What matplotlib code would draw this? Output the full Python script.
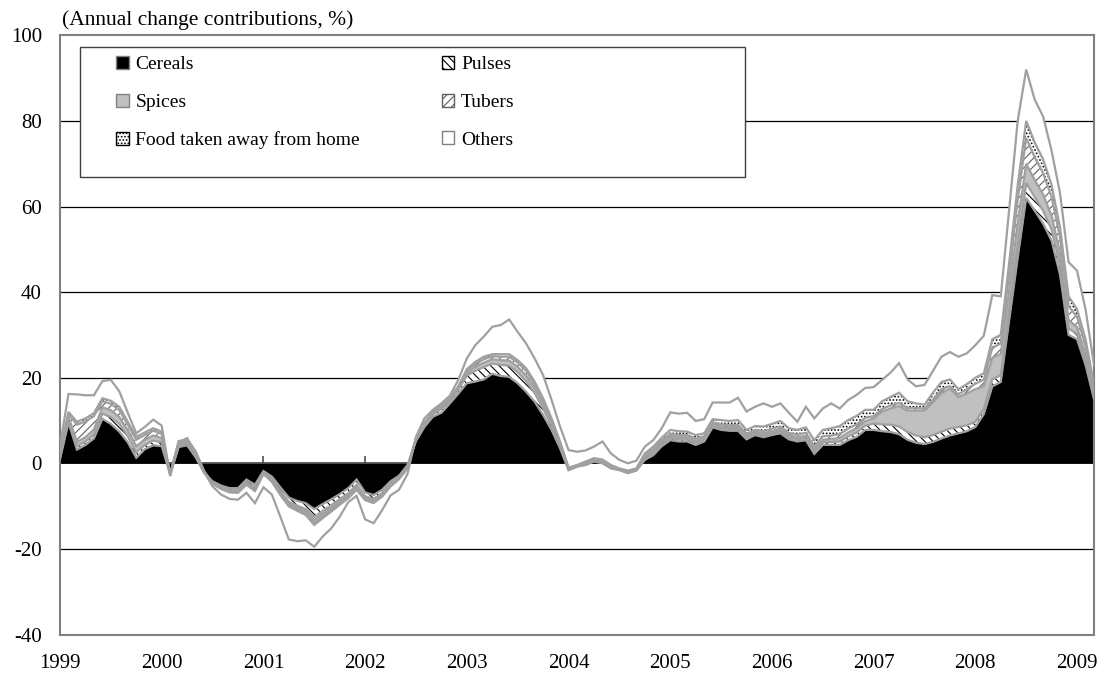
import matplotlib
matplotlib.use("Agg")
import matplotlib.pyplot as plt
from matplotlib.patches import Patch, Rectangle
import numpy as np

years = ["1999", "2000", "2001", "2002", "2003", "2004", "2005", "2006", "2007", "2008", "2009"]
series_names = ["Cereals", "Pulses", "Spices", "Tubers", "Food taken away from home", "Others"]

cereals = [1.0, 9.5, 3.2, 4.3, 5.8, 10.4, 9.2, 7.4, 4.9, 1.3, 3.3, 4.2,
           4.0, -2.6, 3.8, 4.2, 1.4, -2.2, -4.2, -5.2, -5.8, -5.8, -3.8, -5.0,
           -1.8, -3.1, -5.6, -8.0, -8.8, -9.3, -10.7, -9.5, -8.4, -7.2, -5.8, -3.8,
           -6.8, -7.4, -6.2, -4.2, -2.9, -0.4, 5.2, 8.5, 10.9, 11.8, 14.0, 16.3,
           18.7, 19.1, 19.6, 20.9, 20.4, 20.2, 18.7, 16.7, 14.4, 11.3, 7.8, 3.5,
           -1.6, -0.8, -0.4, 0.4, 0.0, -1.2, -1.6, -2.3, -1.7, 0.8, 1.9, 4.0,
           5.4, 5.1, 5.1, 4.3, 5.1, 8.4, 7.8, 7.6, 7.6, 5.6, 6.6, 6.1,
           6.6, 7.0, 5.6, 5.1, 5.4, 2.2, 4.3, 4.3, 4.3, 5.4, 6.2, 7.8,
           7.8, 7.5, 7.3, 6.8, 5.5, 4.8, 4.5, 5.0, 5.8, 6.5, 7.0, 7.5,
           8.5, 11.5, 18.0, 19.0, 33.5, 48.0, 62.0, 59.0, 56.0, 52.0, 44.0, 30.0,
           29.0, 23.0, 15.0]

pulses = [0.4, 0.6, 0.8, 0.8, 0.9, 1.2, 1.6, 1.8, 1.4, 1.2, 1.0, 1.1,
          0.9, 0.1, 0.4, 0.4, 0.4, 0.1, -0.3, -0.4, -0.5, -0.5, -0.6, -0.7,
          -0.3, -0.6, -0.9, -1.0, -1.1, -1.4, -1.8, -1.6, -1.4, -1.2, -1.2, -1.2,
          -0.9, -0.9, -0.8, -0.6, -0.4, -0.4, 0.3, 0.5, 0.6, 0.9, 0.6, 0.9,
          1.8, 2.5, 2.9, 2.4, 2.6, 2.6, 2.6, 2.5, 2.0, 1.5, 1.0, 0.5,
          0.1, 0.1, 0.2, 0.2, 0.2, 0.2, 0.1, 0.1, 0.1, 0.4, 0.5, 0.5,
          0.5, 0.5, 0.5, 0.5, 0.4, 0.4, 0.4, 0.4, 0.4, 0.4, 0.4, 0.4,
          0.4, 0.5, 0.5, 0.5, 0.5, 0.5, 0.6, 0.7, 0.8, 0.9, 1.0, 1.0,
          1.5, 1.6, 1.7, 1.8, 1.8, 1.7, 1.6, 1.6, 1.6, 1.6, 1.5, 1.4,
          1.2, 1.2, 1.6, 1.6, 2.4, 3.0, 3.5, 3.2, 3.0, 2.6, 2.2, 1.5,
          1.2, 1.0, 0.6]

spices = [0.4, 0.8, 1.0, 1.0, 1.2, 1.5, 1.6, 1.6, 1.4, 1.5, 1.2, 1.2,
          1.0, 0.1, 0.4, 0.4, 0.4, 0.1, -0.1, -0.2, -0.2, -0.2, -0.2, -0.3,
          -0.2, -0.3, -0.4, -0.5, -0.5, -0.6, -0.8, -0.7, -0.6, -0.6, -0.5, -0.5,
          -0.4, -0.4, -0.4, -0.3, -0.2, -0.2, 0.1, 0.2, 0.2, 0.3, 0.3, 0.3,
          0.6, 0.9, 1.0, 1.0, 1.1, 1.2, 1.2, 1.3, 1.2, 1.1, 0.8, 0.5,
          0.2, 0.1, 0.2, 0.2, 0.3, 0.2, 0.1, 0.2, 0.2, 0.4, 0.5, 0.5,
          0.5, 0.5, 0.5, 0.5, 0.4, 0.4, 0.4, 0.4, 0.5, 0.4, 0.4, 0.5,
          0.5, 0.5, 0.5, 0.5, 0.5, 0.6, 0.6, 0.7, 0.8, 0.9, 1.0, 1.0,
          1.2, 3.0, 3.8, 4.8, 5.0, 5.8, 6.2, 7.6, 9.0, 9.3, 7.0, 7.4,
          7.6, 5.3, 5.0, 5.0, 4.5, 5.0, 4.5, 4.0, 3.8, 3.2, 2.8, 2.0,
          1.6, 1.4, 0.8]

tubers = [0.5, 0.7, 4.0, 3.7, 3.1, 1.4, 1.5, 1.6, 1.3, 1.5, 1.1, 1.1,
          1.0, -0.2, 0.3, 0.3, 0.3, 0.1, -0.1, -0.1, -0.2, -0.2, -0.2, -0.3,
          -0.1, -0.2, -0.3, -0.3, -0.4, -0.5, -0.7, -0.6, -0.5, -0.4, -0.4, -0.4,
          -0.3, -0.3, -0.2, -0.2, -0.1, -0.1, 0.1, 0.2, 0.2, 0.3, 0.2, 0.3,
          0.5, 0.7, 0.8, 0.7, 0.8, 0.9, 1.0, 1.1, 0.9, 0.8, 0.5, 0.3,
          0.1, 0.1, 0.2, 0.2, 0.2, 0.2, 0.1, 0.1, 0.1, 0.3, 0.4, 0.4,
          0.5, 0.5, 0.5, 0.5, 0.4, 0.4, 0.5, 0.5, 0.5, 0.5, 0.4, 0.5,
          0.6, 0.6, 0.5, 0.6, 0.7, 0.7, 0.8, 0.8, 0.9, 0.9, 0.9, 0.8,
          0.5, 0.6, 0.7, 0.7, 0.6, 0.6, 0.5, 0.7, 0.9, 0.6, 0.6, 1.0,
          1.3, 1.5, 2.4, 2.4, 4.0, 5.5, 6.0, 5.3, 5.0, 4.4, 3.6, 3.2,
          2.4, 2.0, 1.2]

food_away = [0.2, 0.4, 0.7, 0.7, 0.7, 0.7, 0.7, 0.8, 0.7, 0.7, 0.6, 0.6,
             0.5, 0.1, 0.3, 0.3, 0.3, 0.1, -0.1, -0.1, -0.1, -0.2, -0.2, -0.2,
             -0.1, -0.1, -0.2, -0.3, -0.3, -0.3, -0.4, -0.4, -0.4, -0.3, -0.3, -0.3,
             -0.2, -0.3, -0.2, -0.1, -0.1, -0.1, 0.1, 0.1, 0.1, 0.2, 0.1, 0.2,
             0.4, 0.5, 0.6, 0.5, 0.6, 0.6, 0.6, 0.6, 0.6, 0.5, 0.4, 0.3,
             0.2, 0.1, 0.2, 0.2, 0.2, 0.2, 0.1, 0.2, 0.1, 0.4, 0.6, 0.6,
             0.9, 0.9, 0.8, 0.8, 0.7, 0.7, 1.0, 1.0, 1.1, 0.9, 0.9, 1.1,
             1.1, 1.3, 1.1, 1.1, 1.3, 1.4, 1.5, 1.7, 1.9, 2.0, 2.0, 1.9,
             1.5, 1.8, 2.0, 2.4, 1.6, 1.1, 0.9, 1.6, 1.7, 1.6, 1.2, 1.2,
             1.4, 1.5, 2.0, 2.0, 2.6, 3.5, 4.0, 3.5, 3.2, 2.8, 2.4, 2.3,
             1.8, 1.6, 0.9]

others = [1.5, 4.2, 6.4, 5.4, 4.2, 4.0, 4.9, 3.6, 2.1, 0.8, 1.3, 2.0,
          1.4, -0.5, -0.4, 0.3, -0.2, -0.2, -0.6, -1.3, -1.5, -1.6, -1.9, -2.8,
          -3.1, -3.0, -5.1, -7.7, -7.1, -5.9, -5.1, -4.3, -3.9, -2.8, -0.9, -1.4,
          -4.5, -4.7, -3.2, -2.1, -2.5, -1.3, 0.4, 1.0, 0.5, 0.5, 0.6, 1.5,
          2.5, 3.9, 4.7, 6.4, 6.8, 8.1, 6.6, 5.8, 5.4, 5.4, 4.3, 3.5,
          4.1, 3.1, 2.6, 2.7, 4.2, 2.7, 2.0, 1.7, 1.8, 1.6, 1.5, 2.2,
          4.1, 4.1, 4.4, 3.3, 3.3, 3.9, 4.1, 4.3, 5.2, 4.3, 4.5, 5.4,
          4.0, 4.1, 3.6, 1.9, 4.8, 5.1, 5.0, 5.8, 4.1, 4.7, 4.9, 5.1,
          5.3, 5.0, 5.7, 6.9, 5.1, 4.0, 4.6, 5.1, 5.9, 6.4, 7.6, 7.2,
          7.6, 8.8, 10.3, 9.0, 12.5, 15.0, 12.0, 10.0, 10.0, 8.0, 8.0, 8.0,
          9.0, 7.0, 4.5]

plt.rcParams['font.family'] = ['Liberation Serif', 'DejaVu Serif']
plt.rcParams['hatch.linewidth'] = 0.8

fig = plt.figure(figsize=(11.06, 6.83), dpi=100)
ax = fig.add_axes([60/1106, 1-634.5/683, 1034/1106, (634.5-35.3)/683])

data = [cereals, pulses, spices, tubers, food_away, others]
n = len(cereals)
x = np.arange(n)
styles = [
    dict(facecolor='black', hatch=None, hcolor='black'),
    dict(facecolor='white', hatch='\\\\\\\\', hcolor='black'),
    dict(facecolor='#c0c0c0', hatch=None, hcolor='#c0c0c0'),
    dict(facecolor='white', hatch='////', hcolor='#606060'),
    dict(facecolor='white', hatch='.....', hcolor='black'),
    dict(facecolor='white', hatch=None, hcolor='white'),
]
line_col = '#a0a0a0'

cum_prev = np.zeros(n)
tops = []
for vals, st in zip(data, styles):
    cum = cum_prev + np.array(vals)
    ax.fill_between(x, cum_prev, cum, facecolor=st['facecolor'], edgecolor=st['hcolor'],
                    hatch=st['hatch'], linewidth=0, zorder=2)
    tops.append(cum)
    cum_prev = cum
for cum in tops:
    ax.plot(x, cum, color=line_col, lw=1.6, zorder=3, solid_joinstyle='miter')

ax.set_xlim(0, n - 1)
ax.set_ylim(-40, 100)
yt = [-40, -20, 0, 20, 40, 60, 80, 100]
ax.set_yticks(yt)
ax.set_yticklabels([str(v) for v in yt])
for v in [-20, 20, 40, 60, 80]:
    ax.axhline(v, color='black', lw=0.9, zorder=1)
ax.axhline(0, color='#505050', lw=1.3, zorder=1.5)
xt = np.arange(0, n, 12)
ax.vlines(xt, 0, 1.6, colors='#505050', lw=1.2, zorder=1.5)
ax.set_xticks(xt)
ax.set_xticklabels(years)
ax.tick_params(axis='both', length=0, labelsize=15)
ax.tick_params(axis='x', pad=14)
ax.tick_params(axis='y', pad=13)
for s in ax.spines.values():
    s.set_color('#808080')
    s.set_linewidth(1.5)

fig.text(62/1106, 1-20/683, "(Annual change contributions, %)", fontsize=15.5,
         ha='left', va='center')

# legend box
bx0 = (80-60)/1034
bw = (745-80)/1034
by0 = (634.5-177)/599.2
bh = (177-47)/599.2
ax.add_patch(Rectangle((bx0, by0), bw, bh, transform=ax.transAxes, facecolor='white',
                       edgecolor='#404040', lw=1.0, zorder=5))
handles = []
for name, st in zip(series_names, styles):
    ec = '#808080' if st['hatch'] is None else st['hcolor']
    handles.append(Patch(facecolor=st['facecolor'], edgecolor=ec, hatch=st['hatch'],
                         linewidth=1.0, label=name))
order = [0, 2, 4, 1, 3, 5]
leg = ax.legend([handles[i] for i in order], [series_names[i] for i in order],
                ncol=2, loc='upper left', bbox_to_anchor=((112-60)/1034, (634.5-52)/599.2),
                frameon=False, fontsize=14, handlelength=0.65, handleheight=0.65,
                handletextpad=0.35, columnspacing=4.2, labelspacing=1.05, borderpad=0.2,
                borderaxespad=0)
leg.set_zorder(6)

fig.savefig("out.png", dpi=100)
